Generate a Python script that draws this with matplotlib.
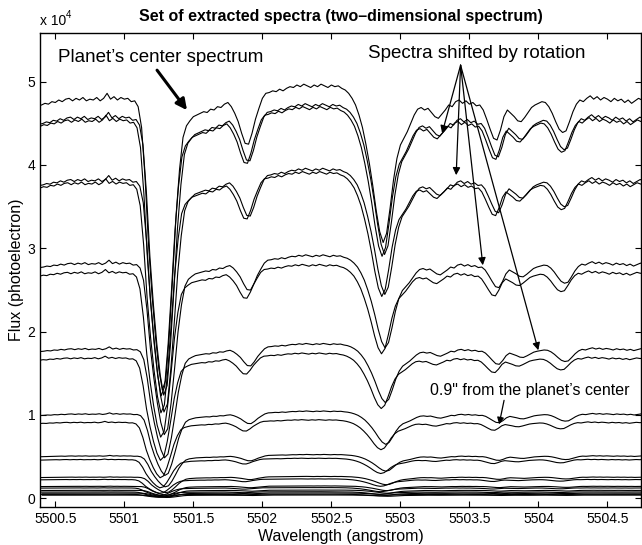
import numpy as np
import matplotlib
matplotlib.use("Agg")
import matplotlib.pyplot as plt

plt.rcParams["font.family"] = ["Liberation Sans", "DejaVu Sans"]

# sampled wavelength grid (angstrom)
wave_start = 5500.375
wave_step = 0.025

# planet's center spectrum, flux in units of 1e4 photoelectrons
center_flux = [
    4.71, 4.72, 4.74, 4.73, 4.76, 4.75, 4.78, 4.76, 4.79, 4.80,
    4.77, 4.80, 4.78, 4.81, 4.77, 4.79, 4.78, 4.81, 4.77, 4.80,
    4.86, 4.79, 4.82, 4.78, 4.81, 4.79, 4.80, 4.76, 4.77, 4.70,
    4.45, 3.85, 3.05, 2.45, 1.95, 1.55, 1.30, 1.42, 1.95, 2.65,
    3.40, 3.95, 4.33, 4.47, 4.53, 4.58, 4.60, 4.62, 4.64, 4.63,
    4.67, 4.66, 4.70, 4.69, 4.73, 4.75, 4.70, 4.62, 4.52, 4.38,
    4.26, 4.25, 4.38, 4.55, 4.68, 4.80, 4.86, 4.87, 4.89, 4.88,
    4.91, 4.89, 4.92, 4.94, 4.93, 4.96, 4.94, 4.97, 4.95, 4.93,
    4.96, 4.94, 4.97, 4.95, 4.93, 4.96, 4.94, 4.95, 4.92, 4.90,
    4.86, 4.80, 4.72, 4.60, 4.45, 4.25, 4.02, 3.75, 3.45, 3.20,
    3.07, 3.18, 3.48, 3.82, 4.08, 4.24, 4.32, 4.40, 4.50, 4.60,
    4.67, 4.69, 4.66, 4.68, 4.63, 4.58, 4.56, 4.61, 4.66, 4.72,
    4.70, 4.76, 4.78, 4.74, 4.77, 4.73, 4.75, 4.71, 4.72, 4.66,
    4.55, 4.43, 4.32, 4.30, 4.42, 4.58, 4.66, 4.62, 4.58, 4.53,
    4.52, 4.57, 4.63, 4.69, 4.72, 4.74, 4.76, 4.75, 4.70, 4.62,
    4.52, 4.43, 4.39, 4.41, 4.52, 4.64, 4.73, 4.78, 4.76, 4.80,
    4.83, 4.79, 4.82, 4.78, 4.81, 4.79, 4.76, 4.80, 4.77, 4.79,
    4.75, 4.78, 4.74, 4.77, 4.80, 4.78, 4.79,
]

# brightness of each extracted spectrum relative to the center one,
# and its rotation (Doppler) shift in angstrom
spec_scale = [1.000, 0.953, 0.946, 0.797, 0.789, 0.588, 0.565, 0.374, 0.351,
              0.211, 0.190, 0.106, 0.097, 0.053, 0.047, 0.030, 0.026,
              0.020, 0.016, 0.013, 0.010, 0.008]
spec_shift = [0.0, 0.010, -0.008, 0.012, -0.010, 0.014, -0.012, 0.016, -0.014,
              0.018, -0.016, 0.020, -0.018, 0.022, -0.020, 0.024, -0.022,
              0.026, -0.024, 0.028, -0.026, 0.030]

xticks = [5500.5, 5501, 5501.5, 5502, 5502.5, 5503, 5503.5, 5504, 5504.5]
yticks = [0, 1, 2, 3, 4, 5]

wave = wave_start + wave_step * np.arange(len(center_flux))
flux = np.array(center_flux)

fig = plt.figure(figsize=(6.42, 5.45), dpi=100)
ax = fig.add_axes([40 / 642, 1 - 507 / 545, 601 / 642, 474.5 / 545])

for s, d in zip(spec_scale, spec_shift):
    ax.plot(wave + d, flux * s, color="k", lw=0.8)

ax.set_xlim(5500.389, 5504.743)
ax.set_ylim(-0.104, 5.59)
ax.set_xticks(xticks)
ax.set_xticklabels([f"{t:g}" for t in xticks])
ax.set_yticks(yticks)
ax.tick_params(direction="in", top=True, right=True, length=4, labelsize=10,
               width=0.8)
for sp in ax.spines.values():
    sp.set_linewidth(1.0)

ax.set_xlabel("Wavelength (angstrom)", fontsize=11.5, labelpad=2)
ax.set_ylabel("Flux (photoelectron)", fontsize=11.5, labelpad=2)
fig.text(340.5 / 642, 1 - 17 / 545,
         "Set of extracted spectra (two\u2013dimensional spectrum)",
         ha="center", va="center", fontsize=11.5, fontweight="bold")
fig.text(40 / 642, 1 - 21 / 545, "x 10", ha="left", va="center", fontsize=10)
fig.text(66 / 642, 1 - 15 / 545, "4", ha="left", va="center", fontsize=7)

# annotations
ax.text(5500.52, 5.29, "Planet\u2019s center spectrum", fontsize=13.5,
        ha="left", va="center")
ax.annotate("", xy=(5501.454, 4.658), xytext=(5501.237, 5.138),
            arrowprops=dict(arrowstyle="-|>", color="k", lw=2.2,
                            mutation_scale=16, shrinkA=0, shrinkB=0))

ax.text(5503.552, 5.342, "Spectra shifted by rotation", fontsize=13.5,
        ha="center", va="center")
rot_heads = [(5503.302, 4.382), (5503.404, 3.878), (5503.597, 2.797),
             (5503.999, 1.777)]
for hx, hy in rot_heads:
    ax.annotate("", xy=(hx, hy), xytext=(5503.436, 5.198),
                arrowprops=dict(arrowstyle="-|>", color="k", lw=0.9,
                                mutation_scale=11, shrinkA=0, shrinkB=0))

ax.text(5503.215, 1.297, "0.9\" from the planet\u2019s center", fontsize=11.5,
        ha="left", va="center")
ax.annotate("", xy=(5503.715, 0.888), xytext=(5503.751, 1.176),
            arrowprops=dict(arrowstyle="-|>", color="k", lw=0.9,
                            mutation_scale=10, shrinkA=0, shrinkB=0))

fig.savefig("out.png", dpi=100)
